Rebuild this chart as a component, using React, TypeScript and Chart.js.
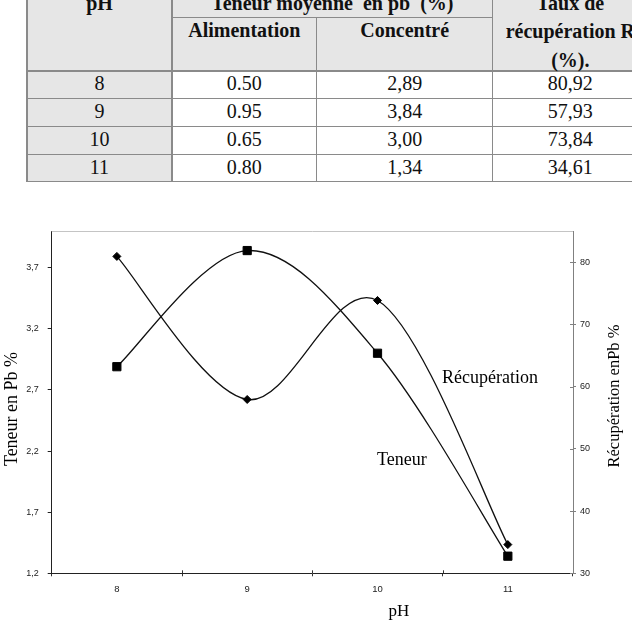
import React, { useEffect, useRef } from 'react';
import { Chart, registerables } from 'chart.js';

Chart.register(...registerables);

// ---------- data ----------
const PH_LABELS = ['8', '9', '10', '11'];
const ALIMENTATION = [0.5, 0.95, 0.65, 0.8];
const TENEUR_CONCENTRE = [2.89, 3.84, 3.0, 1.34];
const RECUPERATION = [80.92, 57.93, 73.84, 34.61];
const LEFT_TICKS = [1.2, 1.7, 2.2, 2.7, 3.2, 3.7];
const RIGHT_TICKS = [30, 40, 50, 60, 70, 80];

// ---------- table layout ----------
const COLS = [27, 172, 316.7, 492.7, 648];
const ROWS = [-12, 17.3, 71, 98.7, 126.7, 154.3, 181.7];
const LINE_COLOR = '#8a8a8a';
const CELL_BG = '#e6e6e6';
const SERIF = '"Liberation Serif", "Times New Roman", serif';

const fmtComma = (v: number) => v.toFixed(2).replace('.', ',');
const fmtDot = (v: number) => v.toFixed(2);

function HLine({ x1, x2, y }: { x1: number; x2: number; y: number }) {
  return <div style={{ position: 'absolute', left: x1, top: y - 0.75, width: x2 - x1, height: 1.5, background: LINE_COLOR }} />;
}
function VLine({ x, y1, y2 }: { x: number; y1: number; y2: number }) {
  return <div style={{ position: 'absolute', left: x - 0.75, top: y1, width: 1.5, height: y2 - y1, background: LINE_COLOR }} />;
}
function Txt({ text, x1, x2, cy, bold }: { text: string; x1: number; x2: number; cy: number; bold?: boolean }) {
  return (
    <div
      style={{
        position: 'absolute',
        left: x1,
        width: x2 - x1,
        top: cy - 14,
        height: 28,
        lineHeight: '28px',
        textAlign: 'center',
        fontFamily: SERIF,
        fontSize: 20,
        fontWeight: bold ? 'bold' : 'normal',
        color: '#111',
        whiteSpace: 'pre',
      }}
    >
      {text}
    </div>
  );
}

function DataTable() {
  const [c0, c1, c2, c3, c4] = COLS;
  const [r0, r1, r2] = ROWS;
  const dataRows = ROWS.slice(2);
  return (
    <div style={{ position: 'absolute', left: 0, top: 0, width: 632, height: 190 }}>
      <div style={{ position: 'absolute', left: c0, top: r0, width: c4 - c0, height: r2 - r0, background: CELL_BG }} />
      <div style={{ position: 'absolute', left: c0, top: r2, width: c1 - c0, height: ROWS[6] - r2, background: CELL_BG }} />
      <HLine x1={c1} x2={c3} y={r1} />
      {dataRows.map((y, i) => (
        <HLine key={'h' + i} x1={c0} x2={c4} y={y} />
      ))}
      <VLine x={c0} y1={r0} y2={ROWS[6]} />
      <VLine x={c1} y1={r0} y2={ROWS[6]} />
      <VLine x={c2} y1={r1} y2={ROWS[6]} />
      <VLine x={c3} y1={r0} y2={ROWS[6]} />

      <Txt text="pH" x1={c0} x2={c1} cy={3} bold />
      <Txt text={'Teneur moyenne  en pb  (%)'} x1={c1} x2={c3} cy={3} bold />
      <Txt text="Alimentation" x1={c1} x2={c2} cy={30} bold />
      <Txt text="Concentré" x1={c2} x2={c3} cy={30} bold />
      <Txt text="Taux de" x1={c3} x2={c4} cy={3} bold />
      <Txt text="récupération R" x1={c3} x2={c4} cy={30.5} bold />
      <Txt text="(%)." x1={c3} x2={c4} cy={60} bold />

      {PH_LABELS.map((ph, i) => {
        const cy = (ROWS[2 + i] + ROWS[3 + i]) / 2 - 1.5;
        return (
          <React.Fragment key={ph}>
            <Txt text={ph} x1={c0} x2={c1} cy={cy} />
            <Txt text={fmtDot(ALIMENTATION[i])} x1={c1} x2={c2} cy={cy} />
            <Txt text={fmtComma(TENEUR_CONCENTRE[i])} x1={c2} x2={c3} cy={cy} />
            <Txt text={fmtComma(RECUPERATION[i])} x1={c3} x2={c4} cy={cy} />
          </React.Fragment>
        );
      })}
    </div>
  );
}

// ---------- chart plugins ----------
const catmullRom = {
  id: 'catmullRom',
  beforeDatasetsDraw(chart: any) {
    chart.data.datasets.forEach((_ds: any, i: number) => {
      const meta = chart.getDatasetMeta(i);
      const line = meta.dataset;
      if (!line) return;
      line.updateControlPoints(chart.chartArea, meta.iScale ? meta.iScale.axis : 'x');
      const pts = meta.data as any[];
      for (let k = 0; k < pts.length; k++) {
        const p = pts[k];
        const prev = pts[Math.max(0, k - 1)];
        const next = pts[Math.min(pts.length - 1, k + 1)];
        const dx = (next.x - prev.x) / 6;
        const dy = (next.y - prev.y) / 6;
        p.cp1x = p.x - dx;
        p.cp1y = p.y - dy;
        p.cp2x = p.x + dx;
        p.cp2y = p.y + dy;
      }
    });
  },
};

function vText(ctx: CanvasRenderingContext2D, text: string, x: number, y: number, font: string) {
  ctx.save();
  ctx.translate(x, y);
  ctx.rotate(-Math.PI / 2);
  ctx.font = font;
  ctx.textAlign = 'center';
  ctx.textBaseline = 'middle';
  ctx.fillStyle = '#000';
  ctx.fillText(text, 0, 0);
  ctx.restore();
}

const decorations = {
  id: 'decorations',
  afterDraw(chart: any) {
    const { ctx, chartArea: a, scales } = chart;
    ctx.save();
    // top frame line
    ctx.strokeStyle = '#c4c4c4';
    ctx.lineWidth = 1;
    ctx.beginPath();
    ctx.moveTo(a.left, a.top + 0.5);
    ctx.lineTo(a.right, a.top + 0.5);
    ctx.stroke();

    // inner tick parts on x axis (category boundaries)
    const xs = scales.x;
    ctx.strokeStyle = '#333';
    ctx.beginPath();
    for (let i = 1; i < PH_LABELS.length; i++) {
      const px = Math.round((xs.getPixelForTick(i - 1) + xs.getPixelForTick(i)) / 2) + 0.5;
      ctx.moveTo(px, a.bottom);
      ctx.lineTo(px, a.bottom - 3);
    }
    ctx.stroke();

    // inner tick parts on right axis
    const yr = scales.y1;
    ctx.strokeStyle = '#808080';
    ctx.beginPath();
    RIGHT_TICKS.forEach((v) => {
      const py = Math.round(yr.getPixelForValue(v)) + 0.5;
      ctx.moveTo(a.right, py);
      ctx.lineTo(a.right - 3, py);
    });
    ctx.stroke();

    // axis titles
    vText(ctx, 'Teneur en Pb %', 12, 219, `18px ${SERIF}`);
    vText(ctx, 'Récupération enPb %', 615, 206, `16.5px ${SERIF}`);
    ctx.font = `17px ${SERIF}`;
    ctx.fillStyle = '#000';
    ctx.textAlign = 'center';
    ctx.textBaseline = 'middle';
    ctx.fillText('pH', 399, 422);

    // curve annotations
    ctx.font = `18px ${SERIF}`;
    ctx.textAlign = 'left';
    ctx.fillText('Récupération', 442, 188);
    ctx.fillText('Teneur', 377, 270);
    ctx.restore();
  },
};

export default function App() {
  const ref = useRef<HTMLCanvasElement>(null);

  useEffect(() => {
    const canvas = ref.current;
    if (!canvas) return;
    const tickFont = { family: '"Liberation Sans", Arial, sans-serif', size: 9 };
    const chart = new Chart(canvas, {
      type: 'line',
      data: {
        labels: PH_LABELS,
        datasets: [
          {
            label: 'Teneur',
            data: TENEUR_CONCENTRE,
            yAxisID: 'y',
            borderColor: '#111',
            backgroundColor: '#000',
            borderWidth: 1.3,
            tension: 0.4,
            pointStyle: 'rect',
            pointRadius: 5.8,
            pointBorderWidth: 1,
            pointBorderColor: '#000',
            pointBackgroundColor: '#000',
            fill: false,
          },
          {
            label: 'Récupération',
            data: RECUPERATION,
            yAxisID: 'y1',
            borderColor: '#111',
            backgroundColor: '#000',
            borderWidth: 1.3,
            tension: 0.4,
            pointStyle: 'rectRot',
            pointRadius: 4,
            pointBorderWidth: 1,
            pointBorderColor: '#000',
            pointBackgroundColor: '#000',
            fill: false,
          },
        ],
      },
      options: {
        responsive: false,
        animation: false,
        devicePixelRatio: 1,
        layout: { padding: { top: 41, left: 0, right: 0, bottom: 0 } },
        plugins: {
          legend: { display: false },
          tooltip: { enabled: false },
        },
        scales: {
          x: {
            type: 'category',
            offset: true,
            grid: { offset: true, drawOnChartArea: false, drawTicks: true, tickLength: 3, tickColor: '#333' },
            border: { display: true, color: '#222', width: 1 },
            ticks: { font: { ...tickFont, size: 9.5 }, color: '#222', padding: 7, maxRotation: 0 },
            afterFit: (s: any) => {
              s.height = 47.7;
            },
          },
          y: {
            type: 'linear',
            position: 'left',
            min: 1.2,
            max: 4.0,
            grid: { drawOnChartArea: false, drawTicks: true, tickLength: 4, tickColor: '#222' },
            border: { display: true, color: '#222', width: 1 },
            ticks: {
              font: tickFont,
              color: '#222',
              padding: 9,
              callback: (v: any) => Number(v).toFixed(1).replace('.', ','),
            },
            afterBuildTicks: (s: any) => {
              s.ticks = LEFT_TICKS.map((v) => ({ value: v }));
            },
            afterFit: (s: any) => {
              s.width = 51.7;
            },
          },
          y1: {
            type: 'linear',
            position: 'right',
            min: 30,
            max: 85,
            grid: { drawOnChartArea: false, drawTicks: true, tickLength: 3, tickColor: '#808080' },
            border: { display: true, color: '#808080', width: 1 },
            ticks: {
              font: tickFont,
              color: '#222',
              padding: 4,
              callback: (v: any) => String(v),
            },
            afterBuildTicks: (s: any) => {
              s.ticks = RIGHT_TICKS.map((v) => ({ value: v }));
            },
            afterFit: (s: any) => {
              s.width = 59;
            },
          },
        },
      },
      plugins: [catmullRom, decorations],
    } as any);
    return () => chart.destroy();
  }, []);

  return (
    <div
      style={{
        position: 'fixed',
        left: 0,
        top: 0,
        width: 632,
        height: 621,
        overflow: 'hidden',
        background: '#fff',
      }}
    >
      <DataTable />
      <canvas
        ref={ref}
        width={632}
        height={431}
        style={{ position: 'absolute', left: 0, top: 190, width: 632, height: 431, display: 'block' }}
      />
    </div>
  );
}
